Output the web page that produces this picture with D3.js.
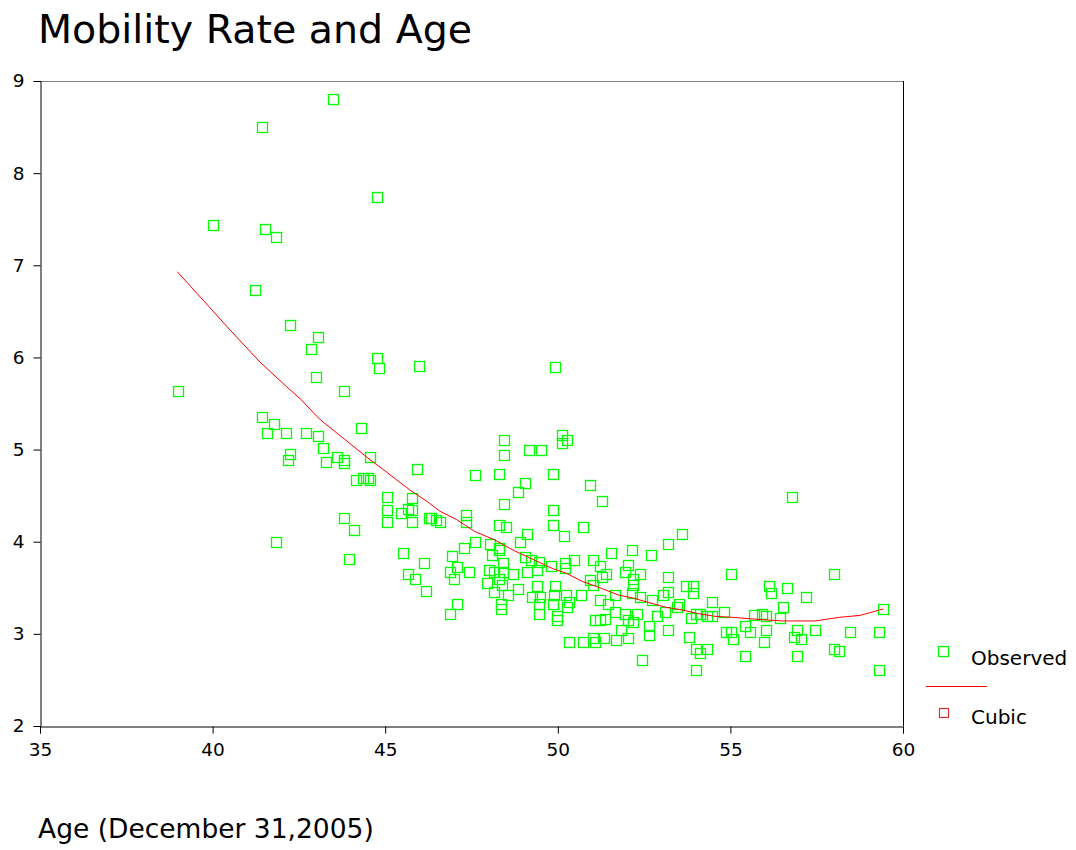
<!DOCTYPE html>
<html>
<head>
<meta charset="utf-8">
<script src="https://cdn.jsdelivr.net/npm/d3@7"></script>
<style>
  html, body { margin: 0; padding: 0; background: #fff; }
  svg { display: block; }
  text { font-family: "DejaVu Sans", Verdana, sans-serif; fill: #000; }
</style>
</head>
<body>
<svg id="chart" width="1076" height="850"></svg>
<script>
// ---- data ----
const title = "Mobility Rate and Age";
const xLabel = "Age (December 31,2005)";
const legendLabels = ["Observed", "Cubic"];
const xTicks = [35, 40, 45, 50, 55, 60];
const yTicks = [2, 3, 4, 5, 6, 7, 8, 9];

const ages = [
  43.48, 41.44, 44.76, 40.02, 41.51, 41.85, 41.24, 42.25, 43.06, 42.86,
  44.76, 44.83, 45.99, 43.00, 39.00, 43.82, 41.44, 41.78, 41.58, 42.12,
  42.71, 43.06, 44.29, 43.21, 42.25, 42.18, 43.28, 43.60, 43.82, 43.82,
  44.56, 45.92, 47.61, 44.15, 44.36, 44.50, 44.57, 45.04, 45.79, 45.04,
  45.45, 45.66, 45.79, 45.04, 45.79, 46.26, 46.33, 46.46, 46.60, 47.34,
  47.34, 43.82, 44.09, 41.85, 45.52, 43.94, 46.94, 47.27, 47.61, 46.12,
  45.65, 45.85, 46.19, 47.08, 46.87, 47.00, 47.42, 47.08, 46.87, 48.43,
  48.43, 49.17, 49.52, 50.12, 50.26, 50.12, 48.30, 49.05, 48.85, 49.85,
  50.94, 51.28, 48.43, 49.85, 49.85, 50.73, 48.30, 48.50, 49.11, 50.19,
  48.91, 48.03, 48.30, 48.30, 48.09, 49.04, 49.23, 49.45, 50.46, 51.01,
  51.55, 52.16, 52.70, 48.42, 49.79, 50.20, 51.22, 52.03, 48.02, 48.15,
  48.42, 48.69, 49.10, 49.39, 50.20, 51.39, 51.95, 47.96, 48.30, 48.38,
  48.15, 48.57, 48.86, 49.39, 49.93, 50.93, 51.03, 51.27, 52.17, 52.17,
  49.24, 49.48, 49.89, 50.24, 50.66, 51.22, 51.66, 52.14, 52.38, 52.72,
  48.36, 48.36, 49.46, 49.46, 49.85, 50.26, 50.33, 51.46, 51.66, 51.96,
  52.04, 52.29, 52.87, 49.99, 49.99, 51.08, 51.22, 51.37, 51.84, 52.17,
  52.65, 52.65, 50.32, 50.74, 51.01, 51.07, 51.34, 51.69, 52.03, 52.44,
  56.78, 53.59, 53.18, 52.38, 53.18, 55.03, 58.00, 53.72, 53.93, 53.93,
  53.18, 53.06, 56.11, 56.18, 56.65, 57.19, 53.52, 53.45, 54.47, 53.11,
  54.00, 54.13, 53.85, 54.33, 54.47, 54.82, 55.69, 55.91, 56.04, 56.44,
  56.52, 59.43, 53.18, 53.79, 54.87, 55.01, 55.08, 55.42, 55.56, 56.03,
  55.97, 56.84, 56.92, 57.05, 57.45, 58.47, 59.30, 54.00, 54.33, 54.13,
  55.42, 56.92, 58.00, 58.14, 54.00, 59.30, 49.92
];
const rates = [
  8.81, 8.50, 7.74, 7.44, 7.39, 7.31, 6.73, 6.35, 6.22, 6.09,
  5.99, 5.89, 5.91, 5.79, 5.64, 5.64, 5.35, 5.28, 5.18, 5.18,
  5.18, 5.15, 5.23, 5.02, 4.95, 4.89, 4.87, 4.92, 4.89, 4.85,
  4.92, 4.79, 4.72, 4.67, 4.69, 4.69, 4.67, 4.49, 4.47, 4.34,
  4.31, 4.36, 4.34, 4.21, 4.21, 4.26, 4.26, 4.24, 4.21, 4.29,
  4.21, 4.26, 4.13, 4.00, 3.88, 3.81, 3.84, 3.93, 4.00, 3.77,
  3.65, 3.60, 3.47, 3.73, 3.67, 3.60, 3.67, 3.32, 3.22, 5.10,
  4.94, 5.00, 5.00, 5.16, 5.10, 5.07, 4.74, 4.64, 4.54, 4.74,
  4.62, 4.44, 4.41, 4.34, 4.18, 4.16, 4.18, 4.16, 4.08, 4.06,
  4.00, 3.98, 3.93, 3.91, 3.86, 3.83, 3.80, 3.78, 3.80, 3.80,
  3.88, 3.91, 3.86, 3.77, 3.74, 3.77, 3.74, 3.75, 3.69, 3.67,
  3.67, 3.65, 3.67, 3.69, 3.71, 3.65, 3.67, 3.55, 3.60, 3.53,
  3.45, 3.42, 3.49, 3.52, 3.52, 3.58, 3.53, 3.62, 3.60, 3.53,
  3.40, 3.40, 3.42, 3.42, 3.42, 3.37, 3.42, 3.44, 3.40, 3.37,
  3.32, 3.27, 3.32, 3.22, 3.32, 3.29, 3.35, 3.32, 3.24, 3.22,
  3.15, 3.22, 3.19, 3.19, 3.15, 3.15, 3.15, 3.16, 3.04, 3.13,
  3.09, 2.99, 2.91, 2.91, 2.96, 2.91, 2.96, 2.93, 2.96, 2.72,
  4.49, 4.08, 3.98, 3.65, 3.62, 3.65, 3.65, 3.52, 3.52, 3.44,
  3.45, 3.42, 3.52, 3.44, 3.50, 3.40, 3.32, 3.29, 3.35, 3.24,
  3.22, 3.22, 3.17, 3.19, 3.19, 3.24, 3.20, 3.22, 3.19, 3.17,
  3.29, 3.27, 3.04, 2.97, 3.02, 3.02, 2.94, 3.09, 3.02, 3.04,
  2.91, 2.97, 3.04, 2.94, 3.04, 3.02, 3.02, 2.84, 2.84, 2.79,
  2.76, 2.76, 2.84, 2.81, 2.61, 2.61, 5.90
];

// cubic fit curve
const curveAges = [38.98, 39.73, 40.50, 41.37, 42.15, 42.57, 43.02, 43.20, 43.83, 44.56, 44.99, 45.72, 46.20,
  46.59, 47.07, 47.60, 48.17, 48.75, 49.16, 49.84, 50.23, 50.71, 51.29,
  51.77, 52.16, 52.64, 53.11, 53.59, 54.07, 54.56, 55.04, 55.71, 56.49,
  57.45, 58.17, 58.75, 59.43];
const curveRates = [6.93, 6.62, 6.30, 5.95, 5.68, 5.54, 5.36, 5.30, 5.11, 4.89, 4.77, 4.56, 4.44,
  4.33, 4.24, 4.11, 4.02, 3.90, 3.83, 3.71, 3.66, 3.57, 3.49,
  3.42, 3.39, 3.34, 3.29, 3.26, 3.22, 3.19, 3.18, 3.16, 3.14,
  3.14, 3.18, 3.20, 3.27];

// ---- drawing ----
const svg = d3.select("#chart");
const pLeft = 40, pRight = 903, pTop = 81, pBottom = 726;
const x = d3.scaleLinear().domain([35, 60]).range([pLeft, pRight]);
const y = d3.scaleLinear().domain([2, 9]).range([pBottom, pTop]);

// title
svg.append("text").attr("x", 38).attr("y", 43)
  .attr("font-size", 39.5).text(title);

// frame: top and right borders
svg.append("line").attr("x1", pLeft).attr("x2", pRight).attr("y1", pTop + 0.5).attr("y2", pTop + 0.5)
  .attr("stroke", "#808080").attr("stroke-width", 1);
svg.append("line").attr("x1", pRight + 0.5).attr("x2", pRight + 0.5).attr("y1", pTop).attr("y2", pBottom)
  .attr("stroke", "#000").attr("stroke-width", 1);

// axes
const yAxis = d3.axisLeft(y).tickValues(yTicks).tickSize(7).tickPadding(9).tickFormat(d3.format("d"));
const gy = svg.append("g").attr("transform", `translate(${pLeft + 0.5},0)`).call(yAxis);
gy.selectAll("text").attr("font-size", 18.5).attr("font-family", "DejaVu Sans, sans-serif");

const xAxis = d3.axisBottom(x).tickValues(xTicks).tickSize(7).tickPadding(9).tickFormat(d3.format("d"));
const gx = svg.append("g").attr("transform", `translate(0,${pBottom + 0.5})`).call(xAxis);
gx.selectAll("text").attr("font-size", 18.5).attr("font-family", "DejaVu Sans, sans-serif");
[gx, gy].forEach(g => {
  g.select(".domain").attr("stroke", "#000");
  g.selectAll(".tick line").attr("stroke", "#000");
});

// points
const pts = ages.map((a, i) => ({ a, r: rates[i] }));
const s = 10;
svg.append("g").selectAll("rect").data(pts).join("rect")
  .attr("x", d => Math.round(x(d.a)) - s / 2 + 0.5)
  .attr("y", d => Math.round(y(d.r)) - s / 2 + 0.5)
  .attr("width", s).attr("height", s)
  .attr("fill", "none").attr("stroke", "#00ff00").attr("stroke-width", 1.3);

// cubic line
const curve = curveAges.map((a, i) => ({ a, r: curveRates[i] }));
svg.append("path").datum(curve)
  .attr("d", d3.line().x(d => x(d.a)).y(d => y(d.r)))
  .attr("fill", "none").attr("stroke", "#ff0000").attr("stroke-width", 1);

// x axis label
svg.append("text").attr("x", 38).attr("y", 838).attr("font-size", 26.5).text(xLabel);

// legend
const lg = svg.append("g");
lg.append("rect").attr("x", 938.5).attr("y", 646.5).attr("width", 10).attr("height", 10)
  .attr("fill", "none").attr("stroke", "#00ff00").attr("stroke-width", 1.3);
lg.append("text").attr("x", 971).attr("y", 665).attr("font-size", 20).text(legendLabels[0]);
lg.append("line").attr("x1", 926).attr("x2", 987).attr("y1", 686.5).attr("y2", 686.5)
  .attr("stroke", "#ff0000").attr("stroke-width", 1);
lg.append("rect").attr("x", 939.5).attr("y", 708.5).attr("width", 9).attr("height", 9)
  .attr("fill", "none").attr("stroke", "#e03030").attr("stroke-width", 1.2);
lg.append("text").attr("x", 971).attr("y", 724).attr("font-size", 20).text(legendLabels[1]);
</script>
</body>
</html>
